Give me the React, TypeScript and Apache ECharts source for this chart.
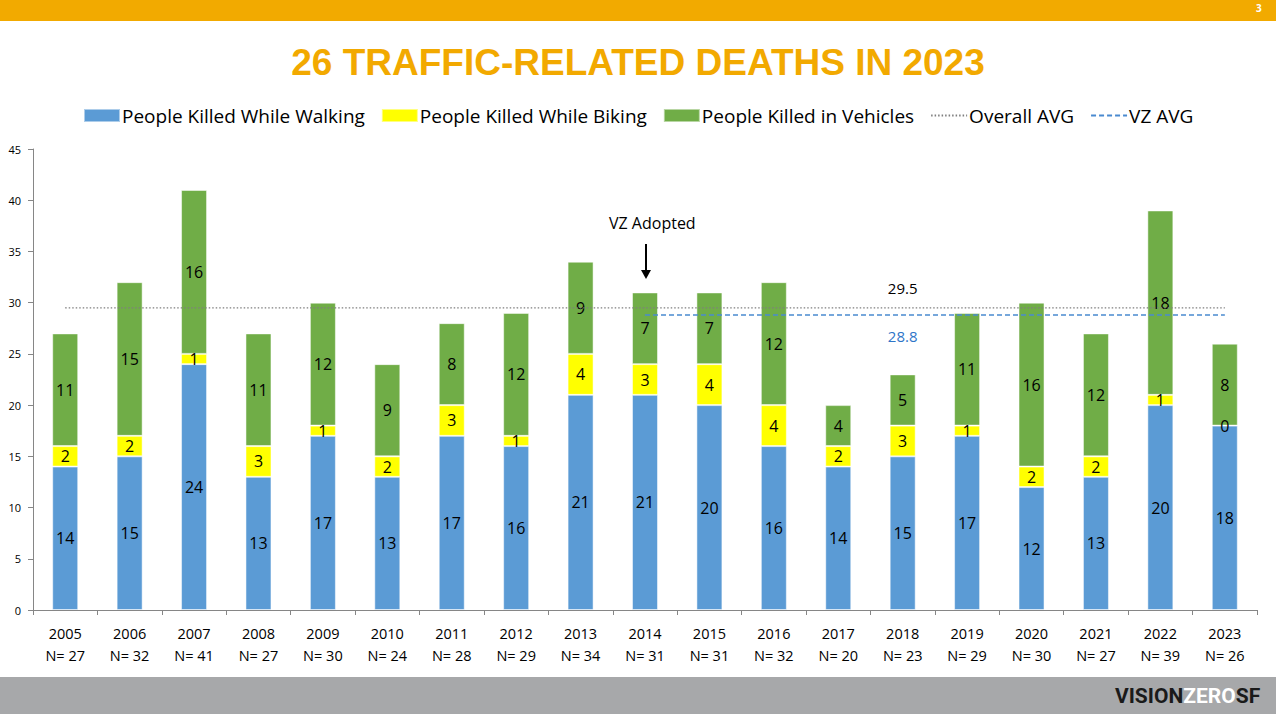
import React, { useEffect, useRef } from "react";
import * as echarts from "echarts";

const years = ["2005","2006","2007","2008","2009","2010","2011","2012","2013","2014","2015","2016","2017","2018","2019","2020","2021","2022","2023"];
const walking = [14,15,24,13,17,13,17,16,21,21,20,16,14,15,17,12,13,20,18];
const biking = [2,2,1,3,1,2,3,1,4,3,4,4,2,3,1,2,2,1,0];
const vehicles = [11,15,16,11,12,9,8,12,9,7,7,12,4,5,11,16,12,18,8];
const totals = [27,32,41,27,30,24,28,29,34,31,31,32,20,23,29,30,27,39,26];
const overallAvg = 29.5;
const vzAvg = 28.8;
const vzStartIndex = 9;
const avgLabelIndex = 13;

const FONT = "'Open Sans', 'Noto Sans', sans-serif";

export default function App() {
  const ref = useRef<HTMLDivElement>(null);
  useEffect(() => {
    if (!ref.current) return;
    const chart = echarts.init(ref.current, null, { renderer: "svg" });
    const barLabel = { show: true, position: "inside", color: "#000", fontSize: 16, fontFamily: FONT };
    const overallData = years.map((_, i) =>
      i === avgLabelIndex
        ? { value: overallAvg, label: { show: true, position: "top", distance: 12, color: "#000", fontSize: 15, fontFamily: FONT, formatter: String(overallAvg) } }
        : overallAvg
    );
    const vzData = years.map((_, i) =>
      i < vzStartIndex
        ? "-"
        : i === avgLabelIndex
        ? { value: vzAvg, label: { show: true, position: "bottom", distance: 13, color: "#2E75C8", fontSize: 15, fontFamily: FONT, formatter: String(vzAvg) } }
        : vzAvg
    );
    chart.setOption({
      animation: false,
      backgroundColor: "#fff",
      textStyle: { fontFamily: FONT },
      title: {
        text: "26 TRAFFIC-RELATED DEATHS IN 2023",
        left: "center",
        top: 39,
        textStyle: { color: "#F2A900", fontSize: 37, fontWeight: "bold", fontFamily: "'Liberation Sans', Arial, sans-serif" },
      },
      legend: {
        top: 106,
        left: 83,
        padding: 0,
        itemWidth: 36,
        itemHeight: 13,
        itemGap: 16,
        textStyle: { fontSize: 19, color: "#000", fontFamily: FONT, padding: [0, 0, 0, -3] },
        data: [
          { name: "People Killed While Walking", icon: "rect" },
          { name: "People Killed While Biking", icon: "rect" },
          { name: "People Killed in Vehicles", icon: "rect" },
          { name: "Overall AVG", itemStyle: { opacity: 0 } },
          { name: "VZ AVG", itemStyle: { opacity: 0 } },
        ],
      },
      grid: { left: 33, right: 19, top: 149, bottom: 104, containLabel: false },
      xAxis: {
        type: "category",
        data: years,
        axisLine: { lineStyle: { color: "#868686" } },
        axisTick: { show: true, length: 5, lineStyle: { color: "#868686" } },
        axisLabel: {
          color: "#000",
          fontSize: 14.5,
          lineHeight: 22,
          margin: 12,
          fontFamily: FONT,
          formatter: (v: string, i: number) => `${v}\nN= ${totals[i]}`,
        },
      },
      yAxis: {
        type: "value",
        min: 0,
        max: 45,
        interval: 5,
        splitLine: { show: false },
        axisLine: { show: true, lineStyle: { color: "#868686" } },
        axisTick: { show: true, length: 5, lineStyle: { color: "#868686" } },
        axisLabel: { color: "#000", fontSize: 11, margin: 12, fontFamily: FONT },
      },
      series: [
        {
          name: "People Killed While Walking",
          type: "bar",
          stack: "total",
          barWidth: 26,
          data: walking,
          itemStyle: { color: "#5B9BD5", borderColor: "rgba(255,255,255,0.5)", borderWidth: 1 },
          label: barLabel,
        },
        {
          name: "People Killed While Biking",
          type: "bar",
          stack: "total",
          data: biking,
          itemStyle: { color: "#FFFF00", borderColor: "rgba(255,255,255,0.5)", borderWidth: 1 },
          label: barLabel,
        },
        {
          name: "People Killed in Vehicles",
          type: "bar",
          stack: "total",
          data: vehicles,
          itemStyle: { color: "#70AD47", borderColor: "rgba(255,255,255,0.5)", borderWidth: 1 },
          label: barLabel,
        },
        {
          name: "Overall AVG",
          type: "line",
          data: overallData,
          symbol: "circle",
          symbolSize: 0.5,
          showSymbol: true,
          itemStyle: { color: "#7F7F7F" },
          lineStyle: { color: "#7F7F7F", width: 1.3, type: [1.5, 2] },
          z: 5,
        },
        {
          name: "VZ AVG",
          type: "line",
          data: vzData,
          symbol: "circle",
          symbolSize: 0.5,
          showSymbol: true,
          itemStyle: { color: "#4A8AD0" },
          lineStyle: { color: "#4A8AD0", width: 1.6, type: [5, 3] },
          z: 5,
        },
      ],
      graphic: [
        { type: "rect", left: 0, top: 0, shape: { width: 1276, height: 21 }, style: { fill: "#F2AA00" } },
        { type: "text", left: 1256, top: 3, style: { text: "3", fill: "#fff", fontSize: 10, fontWeight: "bold", fontFamily: FONT } },
        { type: "rect", left: 0, top: 677, shape: { width: 1276, height: 37 }, style: { fill: "#A7A8AA" } },
        {
          type: "text",
          left: 1115,
          top: 685,
          style: {
            text: "{a|VISION}{b|ZERO}{a|SF}",
            rich: {
              a: { fill: "#1a1a1a", fontSize: 21, fontWeight: "bold", fontFamily: "'Liberation Sans Narrow', 'Roboto', sans-serif" },
              b: { fill: "#ffffff", fontSize: 21, fontWeight: "bold", fontFamily: "'Liberation Sans Narrow', 'Roboto', sans-serif" },
            },
          },
        },
        { type: "text", left: 609, top: 215, style: { text: "VZ Adopted", fill: "#000", fontSize: 16, fontFamily: FONT } },
        { type: "line", shape: { x1: 646, y1: 244, x2: 646, y2: 272 }, style: { stroke: "#000", lineWidth: 2 } },
        { type: "polygon", shape: { points: [[641, 270], [651, 270], [646, 279]] }, style: { fill: "#000" } },
      ],
    });
    return () => chart.dispose();
  }, []);
  return <div ref={ref} style={{ position: "fixed", left: 0, top: 0, width: 1276, height: 714 }} />;
}
